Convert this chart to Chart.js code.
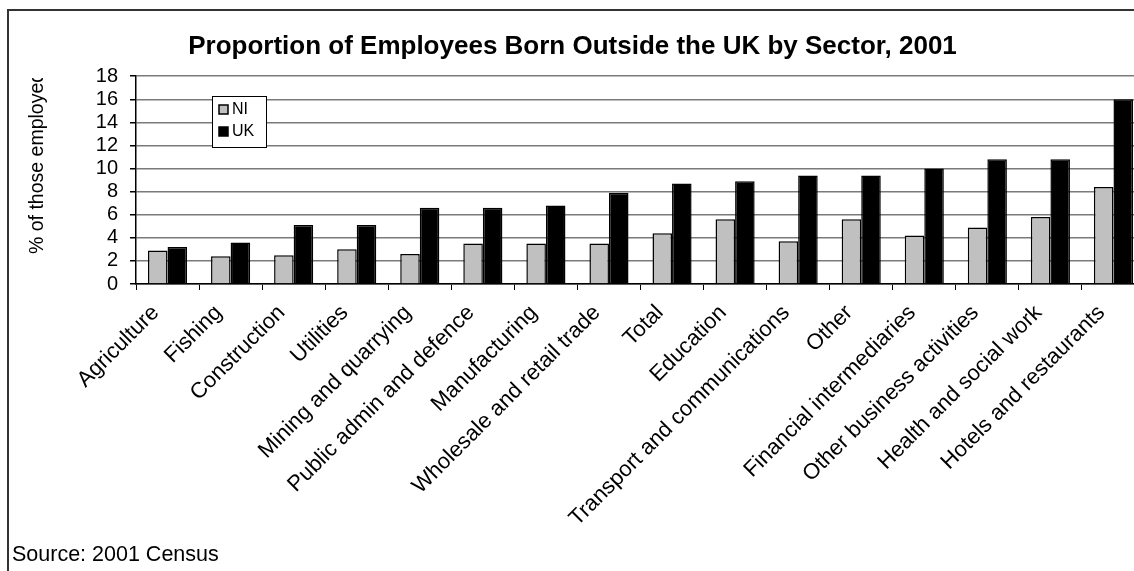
<!DOCTYPE html>
<html>
<head>
<meta charset="utf-8">
<title>Employees born outside the UK by sector</title>
<script src="https://cdn.jsdelivr.net/npm/chart.js@4.4.1/dist/chart.umd.min.js"></script>
<style>
  html, body { margin: 0; padding: 0; background: #fff; overflow: hidden; }
  #frame { position: absolute; left: 7px; top: 9px; width: 1200px; height: 700px; border: 2px solid #333; }
  #wrap { position: absolute; left: 0; top: 0; width: 1160px; height: 571px; }
  #source { position: absolute; left: 12px; top: 542px; font: 21.5px "Liberation Sans", Arial, sans-serif; color: #000; }
</style>
</head>
<body>
<div id="frame"></div>
<div id="wrap"><canvas id="sectorChart"></canvas></div>
<div id="source">Source: 2001 Census</div>

<script>
  var sectors = [
    'Agriculture', 'Fishing', 'Construction', 'Utilities', 'Mining and quarrying',
    'Public admin and defence', 'Manufacturing', 'Wholesale and retail trade', 'Total',
    'Education', 'Transport and communications', 'Other', 'Financial intermediaries',
    'Other business activities', 'Health and social work', 'Hotels and restaurants'
  ];
  var niValues = [2.9, 2.4, 2.5, 3.0, 2.6, 3.5, 3.5, 3.5, 4.4, 5.6, 3.7, 5.6, 4.2, 4.9, 5.8, 8.4];
  var ukValues = [3.2, 3.6, 5.1, 5.1, 6.6, 6.6, 6.8, 7.9, 8.7, 8.9, 9.4, 9.4, 10.0, 10.8, 10.8, 16.0];
  var yTicks = [0, 2, 4, 6, 8, 10, 12, 14, 16, 18];

  var fontFamily = '"Liberation Sans", Arial, sans-serif';

  // small boxed legend sitting inside the plot
  var boxLegend = {
    id: 'boxLegend',
    afterDraw: function (chart, args, opts) {
      var ctx = chart.ctx;
      ctx.save();
      ctx.fillStyle = '#fff';
      ctx.strokeStyle = '#000';
      ctx.lineWidth = 1;
      ctx.fillRect(opts.x, opts.y, opts.w, opts.h);
      ctx.strokeRect(opts.x + 0.5, opts.y + 0.5, opts.w, opts.h);
      ctx.font = '16px ' + fontFamily;
      ctx.textBaseline = 'middle';
      chart.data.datasets.forEach(function (ds, i) {
        var cy = opts.y + 13 + i * 22;
        ctx.fillStyle = ds.backgroundColor;
        ctx.fillRect(opts.x + 7, cy - 4, 9, 9);
        ctx.strokeStyle = '#000';
        ctx.lineWidth = 1.5;
        ctx.strokeRect(opts.x + 7, cy - 4, 9, 9);
        ctx.fillStyle = '#000';
        ctx.fillText(ds.label, opts.x + 20, cy + 1);
      });
      ctx.restore();
    }
  };

  // rotated y axis title, cut off at the top like the original
  var sideTitle = {
    id: 'sideTitle',
    afterDraw: function (chart, args, opts) {
      var ctx = chart.ctx;
      ctx.save();
      ctx.beginPath();
      ctx.rect(0, opts.clipTop, 100, chart.height);
      ctx.clip();
      ctx.translate(opts.x, opts.y);
      ctx.rotate(-Math.PI / 2);
      ctx.font = '19.5px ' + fontFamily;
      ctx.fillStyle = '#000';
      ctx.textAlign = 'left';
      ctx.textBaseline = 'middle';
      ctx.fillText(opts.text, 0, 0);
      ctx.restore();
    }
  };

  var ctx = document.getElementById('sectorChart').getContext('2d');
  var sectorChart = new Chart(ctx, {
    type: 'bar',
    data: {
      labels: sectors,
      datasets: [
        {
          label: 'NI',
          data: niValues,
          backgroundColor: '#c0c0c0',
          borderColor: '#000',
          borderWidth: 1.5,
          borderSkipped: 'bottom'
        },
        {
          label: 'UK',
          data: ukValues,
          backgroundColor: '#000',
          borderColor: '#000',
          borderWidth: 1.5,
          borderSkipped: 'bottom'
        }
      ]
    },
    options: {
      responsive: true,
      maintainAspectRatio: false,
      animation: false,
      categoryPercentage: 0.62,
      barPercentage: 1.0,
      layout: { padding: { left: 0, right: 15, top: 0, bottom: 0 } },
      plugins: {
        legend: { display: false },
        tooltip: { enabled: false },
        title: {
          display: true,
          text: 'Proportion of Employees Born Outside the UK by Sector, 2001',
          color: '#000',
          font: { family: fontFamily, size: 26, weight: 'bold' },
          padding: { top: 31, bottom: 14 }
        },
        boxLegend: { x: 212, y: 96, w: 54, h: 51 },
        sideTitle: { text: '% of those employed', x: 38, y: 254, clipTop: 78 }
      },
      scales: {
        x: {
          grid: {
            offset: true,
            drawOnChartArea: false,
            drawTicks: true,
            tickLength: 6,
            tickColor: '#000'
          },
          border: { color: '#000', width: 1.5 },
          ticks: {
            autoSkip: false,
            minRotation: 45,
            maxRotation: 45,
            padding: 10,
            labelOffset: -12,
            color: '#000',
            font: { family: fontFamily, size: 22 }
          },
          afterFit: function (scale) { scale.height = 287; }
        },
        y: {
          min: 0,
          max: 18,
          afterBuildTicks: function (scale) {
            scale.ticks = yTicks.map(function (v) { return { value: v }; });
          },
          grid: {
            color: '#7a7a7a',
            lineWidth: 1.5,
            drawTicks: true,
            tickLength: 6,
            tickColor: '#000'
          },
          border: { color: '#000', width: 1.5 },
          ticks: {
            autoSkip: false,
            padding: 12,
            color: '#000',
            font: { family: fontFamily, size: 20 }
          },
          afterFit: function (scale) { scale.width = 136; }
        }
      }
    },
    plugins: [boxLegend, sideTitle]
  });
</script>
</body>
</html>
